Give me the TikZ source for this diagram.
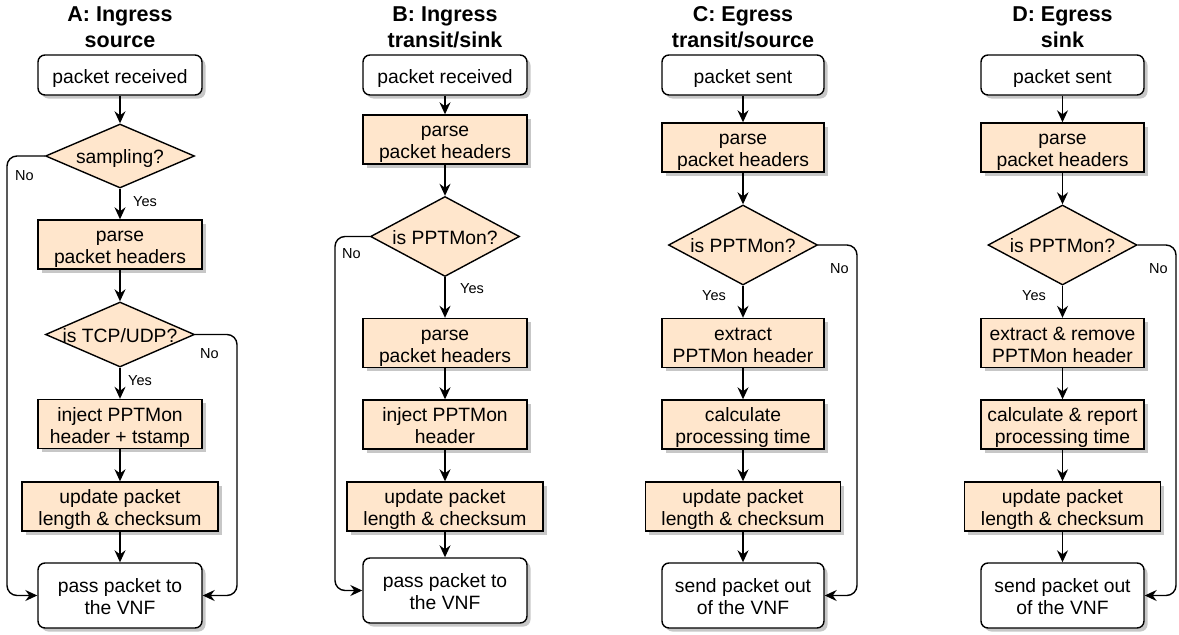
\documentclass[tikz,border=0pt]{standalone}
\usepackage{fontspec}
\setmainfont{Liberation Sans}
\usetikzlibrary{shapes.geometric,shadows,arrows.meta}
\definecolor{peach}{HTML}{FFE6CC}
\newcommand{\bodyf}{\fontsize{19.3pt}{22.3pt}\selectfont}
\newcommand{\ttlf}{\bfseries\fontsize{21.5pt}{26pt}\selectfont}
\newcommand{\lblf}{\fontsize{14.5pt}{17pt}\selectfont}
\newcommand{\stt}{\rule{0pt}{20.6pt}}
\newcommand{\std}{\rule[-4pt]{0pt}{4pt}}
\newcommand{\dtxt}[1]{\smash{\raisebox{-7.5pt}{\makebox[0pt]{#1}}}}
\begin{document}
\begin{tikzpicture}[x=1pt,y=-1pt,
  shad/.style={drop shadow={shadow xshift=3.5pt,shadow yshift=-3.5pt,fill=black!22,opacity=1}},
  basebox/.style={draw=black,line width=1.4pt,inner sep=0pt,align=center,font=\bodyf,rectangle},
  proc/.style={basebox,fill=peach,minimum height=49pt,shad},
  term/.style={basebox,fill=white,rounded corners=7pt,shad},
  dec/.style={draw=black,line width=1.4pt,shape=diamond,fill=peach,inner sep=0pt,
    minimum width=149pt,minimum height=80pt,font=\bodyf},
  ttl/.style={inner sep=0pt,align=center,font=\ttlf,anchor=north},
  lbl/.style={inner sep=0pt,font=\lblf,anchor=base west},
  arr/.style={draw=black,line width=1.4pt,rounded corners=10pt,
    -{Stealth[length=12pt,width=11pt,inset=4pt]}}
]
\useasboundingbox (0,0) rectangle (1179,635);

% ---------------- Column A ----------------
\node[ttl] (At) at (120,5.7) {\rule{0pt}{16pt}A: Ingress\\source};
\node[term,minimum width=164pt,minimum height=40pt] (A0) at (120,75) {\stt packet received\std};
\node[dec,minimum height=64pt] (A1) at (120,156) {\dtxt{sampling?}};
\node[proc,minimum width=164pt] (A2) at (120,244.5) {\stt parse\\packet headers\std};
\node[dec,minimum height=65pt] (A3) at (120,334.5) {\dtxt{is TCP/UDP?}};
\node[proc,minimum width=164pt] (A4) at (120,424) {\stt inject PPTMon\\header + tstamp\std};
\node[proc,minimum width=196pt] (A5) at (120,506.5) {\stt update packet\\length \& checksum\std};
\node[term,minimum width=164pt,minimum height=65pt] (A6) at (120,595.5) {\stt pass packet to\\the VNF\std};
\coordinate (AxL) at (7,0);
\coordinate (AxR) at (237,0);
\draw[arr] (A0) -- (A1);
\draw[arr] (A1) -- (A2);
\draw[arr] (A2) -- (A3);
\draw[arr] (A3) -- (A4);
\draw[arr] (A4) -- (A5);
\draw[arr] (A5) -- (A6);
\draw[arr] (A1.west) -- (A1.west -| AxL) -- (A6.west -| AxL) -- (A6.west);
\draw[arr] (A3.east) -- (A3.east -| AxR) -- (A6.east -| AxR) -- (A6.east);
\node[lbl] (nA1) at (15,180) {No};
\node[lbl] (yA1) at (133,206) {Yes};
\node[lbl] (nA3) at (200,358) {No};
\node[lbl] (yA3) at (128,385) {Yes};

% ---------------- Column B ----------------
\node[ttl] (Bt) at (445,5.7) {\rule{0pt}{16pt}B: Ingress\\transit/sink};
\node[term,minimum width=164pt,minimum height=40pt] (B0) at (445,75) {\stt packet received\std};
\node[proc,minimum width=164pt] (B1) at (445,139.5) {\stt parse\\packet headers\std};
\node[dec,minimum height=80pt] (B2) at (445,236.5) {\dtxt{is PPTMon?}};
\node[proc,minimum width=164pt] (B3) at (445,343) {\stt parse\\packet headers\std};
\node[proc,minimum width=164pt] (B4) at (445,424.5) {\stt inject PPTMon\\header\std};
\node[proc,minimum width=196pt] (B5) at (445,506.5) {\stt update packet\\length \& checksum\std};
\node[term,minimum width=164pt,minimum height=65pt] (B6) at (445,590.5) {\stt pass packet to\\the VNF\std};
\coordinate (BxL) at (335,0);
\draw[arr] (B0) -- (B1);
\draw[arr] (B1) -- (B2);
\draw[arr] (B2) -- (B3);
\draw[arr] (B3) -- (B4);
\draw[arr] (B4) -- (B5);
\draw[arr] (B5) -- (B6);
\draw[arr] (B2.west) -- (B2.west -| BxL) -- (B6.west -| BxL) -- (B6.west);
\node[lbl] (nB2) at (342,258) {No};
\node[lbl] (yB2) at (460,293) {Yes};

% ---------------- Column C ----------------
\node[ttl] (Ct) at (743,5.7) {\rule{0pt}{16pt}C: Egress\\transit/source};
\node[term,minimum width=162pt,minimum height=40pt] (C0) at (743,75) {\stt packet sent\std};
\node[proc,minimum width=162pt] (C1) at (743,147.5) {\stt parse\\packet headers\std};
\node[dec,minimum height=80pt] (C2) at (743,245) {\dtxt{is PPTMon?}};
\node[proc,minimum width=162pt] (C3) at (743,343) {\stt extract\\PPTMon header\std};
\node[proc,minimum width=162pt] (C4) at (743,424.5) {\stt calculate\\processing time\std};
\node[proc,minimum width=195pt] (C5) at (743,506.5) {\stt update packet\\length \& checksum\std};
\node[term,minimum width=162pt,minimum height=65pt] (C6) at (743,595.5) {\stt send packet out\\of the VNF\std};
\coordinate (CxR) at (857,0);
\draw[arr] (C0) -- (C1);
\draw[arr] (C1) -- (C2);
\draw[arr] (C2) -- (C3);
\draw[arr] (C3) -- (C4);
\draw[arr] (C4) -- (C5);
\draw[arr] (C5) -- (C6);
\draw[arr] (C2.east) -- (C2.east -| CxR) -- (C6.east -| CxR) -- (C6.east);
\node[lbl] (nC2) at (830,273) {No};
\node[lbl] (yC2) at (702,300) {Yes};

% ---------------- Column D ----------------
\node[ttl] (Dt) at (1062.5,5.7) {\rule{0pt}{16pt}D: Egress\\sink};
\node[term,minimum width=163pt,minimum height=40pt] (D0) at (1062.5,75) {\stt packet sent\std};
\node[proc,minimum width=163pt] (D1) at (1062.5,147.5) {\stt parse\\packet headers\std};
\node[dec,minimum height=80pt] (D2) at (1062.5,245) {\dtxt{is PPTMon?}};
\node[proc,minimum width=163pt] (D3) at (1062.5,343) {\stt extract \& remove\\PPTMon header\std};
\node[proc,minimum width=163pt] (D4) at (1062.5,424.5) {\stt calculate \& report\\processing time\std};
\node[proc,minimum width=196pt] (D5) at (1062.5,506.5) {\stt update packet\\length \& checksum\std};
\node[term,minimum width=163pt,minimum height=65pt] (D6) at (1062.5,595.5) {\stt send packet out\\of the VNF\std};
\coordinate (DxR) at (1176,0);
\draw[arr] (D0) -- (D1);
\draw[arr] (D1) -- (D2);
\draw[arr] (D2) -- (D3);
\draw[arr] (D3) -- (D4);
\draw[arr] (D4) -- (D5);
\draw[arr] (D5) -- (D6);
\draw[arr] (D2.east) -- (D2.east -| DxR) -- (D6.east -| DxR) -- (D6.east);
\node[lbl] (nD2) at (1149,273) {No};
\node[lbl] (yD2) at (1022,300) {Yes};
\end{tikzpicture}
\end{document}
